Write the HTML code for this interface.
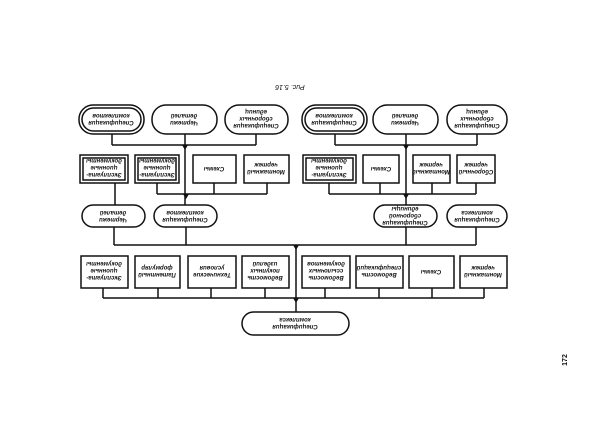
<!DOCTYPE html>
<html><head><meta charset="utf-8"><style>
html,body{margin:0;padding:0;background:#fff;}
svg{display:block;}
text{font-family:"Liberation Sans",sans-serif;font-style:italic;font-weight:bold;font-size:6px;fill:#111;text-anchor:middle;}
</style></head><body>
<svg width="600" height="425" viewBox="0 0 600 425" xmlns="http://www.w3.org/2000/svg">
<g fill="none" stroke="#111" stroke-width="1.5">
<rect x="79" y="105" width="65" height="29" rx="14"/><rect x="82" y="108" width="59" height="23" rx="11.5"/>
<rect x="152" y="105" width="65" height="29" rx="14"/>
<rect x="225" y="105" width="63" height="29" rx="14"/>
<rect x="302" y="105" width="65" height="29" rx="14"/><rect x="305" y="108" width="59" height="23" rx="11.5"/>
<rect x="373" y="105" width="65" height="29" rx="14"/>
<rect x="447" y="105" width="60" height="29" rx="14"/>
<path d="M112 134V145M185 134V145M256 134V145M112 145H256M185 145V205"/>
<path d="M335 134V145M406 134V145M477 134V145M335 145H477M406 145V205"/>
<rect x="80" y="155" width="48" height="28"/><rect x="83" y="158" width="42" height="22"/>
<rect x="135" y="155" width="44" height="28"/><rect x="138" y="158" width="38" height="22"/>
<rect x="193" y="155" width="43" height="28"/>
<rect x="244" y="155" width="45" height="28"/>
<rect x="303" y="155" width="53" height="28"/><rect x="306" y="158" width="47" height="22"/>
<rect x="363" y="155" width="36" height="28"/>
<rect x="413" y="155" width="37" height="28"/>
<rect x="457" y="155" width="38" height="28"/>
<path d="M115 183V205M157 183V194M214 183V194M267 183V194M157 194H267"/>
<path d="M329 183V194M380 183V194M432 183V194M476 183V194M329 194H476"/>
<rect x="82" y="205" width="63" height="22" rx="11"/>
<rect x="154" y="205" width="63" height="22" rx="11"/>
<rect x="374" y="205" width="63" height="22" rx="11"/>
<rect x="447" y="205" width="60" height="22" rx="11"/>
<path d="M114 227V245M186 227V245M406 227V245M476 227V245M114 245H476M296 245V312"/>
<rect x="81" y="256" width="47" height="32"/>
<rect x="135" y="256" width="45" height="32"/>
<rect x="188" y="256" width="48" height="32"/>
<rect x="242" y="256" width="47" height="32"/>
<rect x="302" y="256" width="48" height="32"/>
<rect x="356" y="256" width="47" height="32"/>
<rect x="409" y="256" width="45" height="32"/>
<rect x="460" y="256" width="47" height="32"/>
<path d="M103 288V298M158 288V298M211 288V298M265 288V298M325 288V298M379 288V298M432 288V298M484 288V298M103 298H484"/>
<rect x="242" y="312" width="107" height="23" rx="11.5"/>
</g>
<g fill="#111">
<path d="M182 145L185 150L188 145Z"/><path d="M403 145L406 150L409 145Z"/>
<path d="M183 194L186 199L189 194Z"/><path d="M403 194L406 199L409 194Z"/>
<path d="M293 245L296 250L299 245Z"/><path d="M293 298L296 303L299 298Z"/>
</g>
<g transform="rotate(180 111 119)"><text x="111" y="117">Спецификация</text><text x="111" y="124">комплектов</text></g>
<g transform="rotate(180 184 119)"><text x="184" y="117">Чертежи</text><text x="184" y="124">деталей</text></g>
<g transform="rotate(180 256 119)"><text x="256" y="114">Спецификация</text><text x="256" y="121">сборочных</text><text x="256" y="128">единиц</text></g>
<g transform="rotate(180 334 119)"><text x="334" y="117">Спецификация</text><text x="334" y="124">комплектов</text></g>
<g transform="rotate(180 405 119)"><text x="405" y="117">Чертежи</text><text x="405" y="124">деталей</text></g>
<g transform="rotate(180 477 119)"><text x="477" y="114">Спецификация</text><text x="477" y="121">сборочных</text><text x="477" y="128">единиц</text></g>

<g transform="rotate(180 104 169)"><text x="104" y="165">Эксплуата-</text><text x="104" y="172">ционные</text><text x="104" y="179">документы</text></g>
<g transform="rotate(180 157 169)"><text x="157" y="165">Эксплуата-</text><text x="157" y="172">ционные</text><text x="157" y="179">документы</text></g>
<g transform="rotate(180 214 169)"><text x="214" y="171">Схемы</text></g>
<g transform="rotate(180 266 169)"><text x="266" y="168">Монтажный</text><text x="266" y="175">чертеж</text></g>
<g transform="rotate(180 329 169)"><text x="329" y="165">Эксплуата-</text><text x="329" y="172">ционные</text><text x="329" y="179">документы</text></g>
<g transform="rotate(180 381 169)"><text x="381" y="171">Схемы</text></g>
<g transform="rotate(180 431 169)"><text x="431" y="168">Монтажный</text><text x="431" y="175">чертеж</text></g>
<g transform="rotate(180 476 169)"><text x="476" y="168">Сборочный</text><text x="476" y="175">чертеж</text></g>

<g transform="rotate(180 113 216)"><text x="113" y="214">Чертежи</text><text x="113" y="221">деталей</text></g>
<g transform="rotate(180 185 216)"><text x="185" y="214">Спецификация</text><text x="185" y="221">комплектов</text></g>
<g transform="rotate(180 405 216)"><text x="405" y="211">Спецификация</text><text x="405" y="218">сборочной</text><text x="405" y="225">единицы</text></g>
<g transform="rotate(180 477 216)"><text x="477" y="214">Спецификация</text><text x="477" y="221">комплекса</text></g>

<g transform="rotate(180 104 272)"><text x="104" y="268">Эксплуата-</text><text x="104" y="275">ционные</text><text x="104" y="282">документы</text></g>
<g transform="rotate(180 157 272)"><text x="157" y="271">Патентный</text><text x="157" y="278">формуляр</text></g>
<g transform="rotate(180 212 272)"><text x="212" y="271">Технические</text><text x="212" y="278">условия</text></g>
<g transform="rotate(180 265 272)"><text x="265" y="268">Ведомость</text><text x="265" y="275">покупных</text><text x="265" y="282">изделий</text></g>
<g transform="rotate(180 326 272)"><text x="326" y="268">Ведомость</text><text x="326" y="275">ссылочных</text><text x="326" y="282">документов</text></g>
<g transform="rotate(180 379 272)"><text x="379" y="271">Ведомость</text><text x="379" y="278">спецификаций</text></g>
<g transform="rotate(180 431 272)"><text x="431" y="274">Схемы</text></g>
<g transform="rotate(180 483 272)"><text x="483" y="271">Монтажный</text><text x="483" y="278">чертеж</text></g>

<g transform="rotate(180 295 323)"><text x="295" y="321">Спецификация</text><text x="295" y="328">комплекса</text></g>
<g transform="rotate(180 290 87)"><text x="290" y="89" style="font-size:7px;font-weight:normal">Рис. 5.16</text></g>
<g transform="rotate(-90 564 360)"><text x="564" y="363" style="font-style:normal;font-size:7px">172</text></g>
</svg>
</body></html>
